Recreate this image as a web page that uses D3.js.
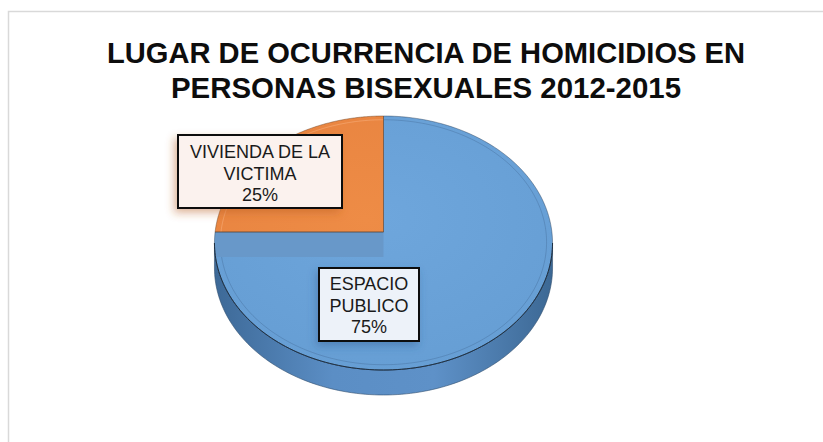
<!DOCTYPE html>
<html>
<head>
<meta charset="utf-8">
<script src="https://cdn.jsdelivr.net/npm/d3@7"></script>
<style>
  html, body { margin: 0; padding: 0; background: #fff; }
  svg { display: block; }
</style>
</head>
<body>
<svg id="chart" width="823" height="442"></svg>
<script>
// ---- data ----
const titleLines = ["LUGAR DE OCURRENCIA DE HOMICIDIOS EN", "PERSONAS BISEXUALES 2012-2015"];
const categories = ["ESPACIO PUBLICO", "VIVIENDA DE LA VICTIMA"];
const values = [75, 25];
const labelLines = [["ESPACIO", "PUBLICO"], ["VIVIENDA DE LA", "VICTIMA"]];
const colors = ["#6aa3d9", "#ec8b45"];

// ---- layout ----
const svg = d3.select("#chart");
const W = 823, H = 442;

// frame (only top/left edges visible in the reference)
svg.append("rect").attr("x", 8.5).attr("y", 11.5).attr("width", 900).attr("height", 500)
  .attr("fill", "#fff").attr("stroke", "#d9d9d9").attr("stroke-width", 1.5);

// title
const title = svg.append("g");
const titleWidths = [638, 510];
titleLines.forEach((t, i) => {
  title.append("text")
    .attr("x", 426).attr("y", 63 + i * 35)
    .attr("text-anchor", "middle")
    .attr("font-family", "'Liberation Sans Narrow','Arial Narrow','Liberation Sans',Arial,sans-serif")
    .attr("font-weight", "bold").attr("font-size", 30)
    .attr("fill", "#0d0d0d")
    .attr("textLength", titleWidths[i]).attr("lengthAdjust", "spacingAndGlyphs")
    .text(t);
});

// defs
const defs = svg.append("defs");
const sideGrad = defs.append("linearGradient").attr("id", "side").attr("x1", 0).attr("x2", 1).attr("y1", 0).attr("y2", 0);
sideGrad.append("stop").attr("offset", "0%").attr("stop-color", "#3d6997");
sideGrad.append("stop").attr("offset", "35%").attr("stop-color", "#5b8ec5");
sideGrad.append("stop").attr("offset", "65%").attr("stop-color", "#5e91c8");
sideGrad.append("stop").attr("offset", "100%").attr("stop-color", "#3c6894");

const topGrad = defs.append("radialGradient").attr("id", "topBlue").attr("cx", "50%").attr("cy", "40%").attr("r", "70%");
topGrad.append("stop").attr("offset", "0%").attr("stop-color", "#6ea6dc");
topGrad.append("stop").attr("offset", "100%").attr("stop-color", "#659dd3");

const orGrad = defs.append("radialGradient").attr("id", "topOrange").attr("cx", "90%").attr("cy", "90%").attr("r", "100%");
orGrad.append("stop").attr("offset", "0%").attr("stop-color", "#ee8c46");
orGrad.append("stop").attr("offset", "100%").attr("stop-color", "#e98541");

const shadowO = defs.append("filter").attr("id", "shO").attr("x", "-30%").attr("y", "-30%").attr("width", "160%").attr("height", "160%");
shadowO.append("feDropShadow").attr("dx", -3).attr("dy", 4).attr("stdDeviation", 4)
  .attr("flood-color", "#b85f20").attr("flood-opacity", 0.45);
const shadowB = defs.append("filter").attr("id", "shB").attr("x", "-30%").attr("y", "-30%").attr("width", "160%").attr("height", "160%");
shadowB.append("feDropShadow").attr("dx", -2).attr("dy", 4).attr("stdDeviation", 4)
  .attr("flood-color", "#2d5a8a").attr("flood-opacity", 0.4);

// ---- projection of the tilted pie (perspective) ----
const cx = 383.5, apexY = 232, k = 168.4, a = 105.95, c = -0.0866, depth = 25;
function proj(theta, r = 1) {
  const u = r * Math.sin(theta), v = -r * Math.cos(theta);
  const w = 1 + c * v;
  return [cx + k * u / w, (a * v + apexY) / w];
}
const line = d3.line();
function rim(t0, t1, r = 1, n = 120) {
  return d3.range(n + 1).map(i => proj(t0 + (t1 - t0) * i / n, r));
}

const pie = d3.pie().sort(null).value(d => d)(values);

const g = svg.append("g");

// side wall (front half of rim)
const tL = Math.acos(-(-c)) ; // angle where v = -c
const frontA = Math.PI - Math.acos(c) ; // placeholder
// front is where v > -c  -> -cos(theta) > 0.0866
const t0 = Math.acos(c);          // ~95 deg
const t1 = 2 * Math.PI - t0;      // ~265 deg
const front = rim(t0, t1);
const wallPts = front.concat(front.slice().reverse().map(p => [p[0], p[1] + depth]));
g.append("path").attr("d", line(wallPts) + "Z")
  .attr("fill", "url(#side)").attr("stroke", "#2f4d6d").attr("stroke-width", 0.6);

// slices (top face)
pie.forEach((s, i) => {
  const pts = [[cx, apexY]].concat(rim(s.startAngle, s.endAngle, 1, 200));
  g.append("path").attr("d", line(pts) + "Z")
    .attr("fill", i === 0 ? "url(#topBlue)" : "url(#topOrange)")
    .attr("stroke", "none");
});

// inner bevel line
pie.forEach((s, i) => {
  g.append("path").attr("d", line(rim(s.startAngle, s.endAngle, 0.965, 200)))
    .attr("fill", "none")
    .attr("stroke", i === 0 ? "rgba(50,85,125,0.35)" : "rgba(255,200,160,0.45)")
    .attr("stroke-width", 0.8);
});

// cut wall of the large slice visible under the small one
const sBig = pie[0];
const pEnd = proj(sBig.endAngle);
g.append("path")
  .attr("d", line([[cx, apexY], pEnd, [pEnd[0], pEnd[1] + depth], [cx, apexY + depth]]) + "Z")
  .attr("fill", "#6898c9").attr("stroke", "none");

// slice borders
pie.forEach((s, i) => {
  const pts = [[cx, apexY]].concat(rim(s.startAngle, s.endAngle, 1, 200));
  g.append("path").attr("d", line(pts) + "Z")
    .attr("fill", "none")
    .attr("stroke", i === 0 ? "rgba(40,60,85,0.55)" : "rgba(110,70,40,0.6)")
    .attr("stroke-width", 0.8);
});
// front rim line
g.append("path").attr("d", line(front)).attr("fill", "none")
  .attr("stroke", "#1f2f40").attr("stroke-width", 1);

// ---- data labels ----
const labelBoxes = [
  { x: 319, y: 268, w: 100, h: 73, fill: "#edf2f9", filter: "url(#shB)", base: 290 },
  { x: 178, y: 135, w: 164, h: 73, fill: "#fbf2ee", filter: "url(#shO)", base: 158 }
];
const total = d3.sum(values);
pie.forEach((s, i) => {
  const b = labelBoxes[i];
  const lg = svg.append("g");
  lg.append("rect").attr("x", b.x).attr("y", b.y).attr("width", b.w).attr("height", b.h)
    .attr("fill", b.fill).attr("stroke", "#111").attr("stroke-width", 2)
    .attr("filter", b.filter);
  const lines = labelLines[i].concat([d3.format(".0%")(values[i] / total)]);
  lines.forEach((t, j) => {
    lg.append("text")
      .attr("x", b.x + b.w / 2).attr("y", b.base + j * 21.5)
      .attr("text-anchor", "middle")
      .attr("font-family", "'Liberation Sans',Arial,sans-serif")
      .attr("font-size", 18).attr("fill", "#1a1a1a")
      .text(t);
  });
});
</script>
</body>
</html>
